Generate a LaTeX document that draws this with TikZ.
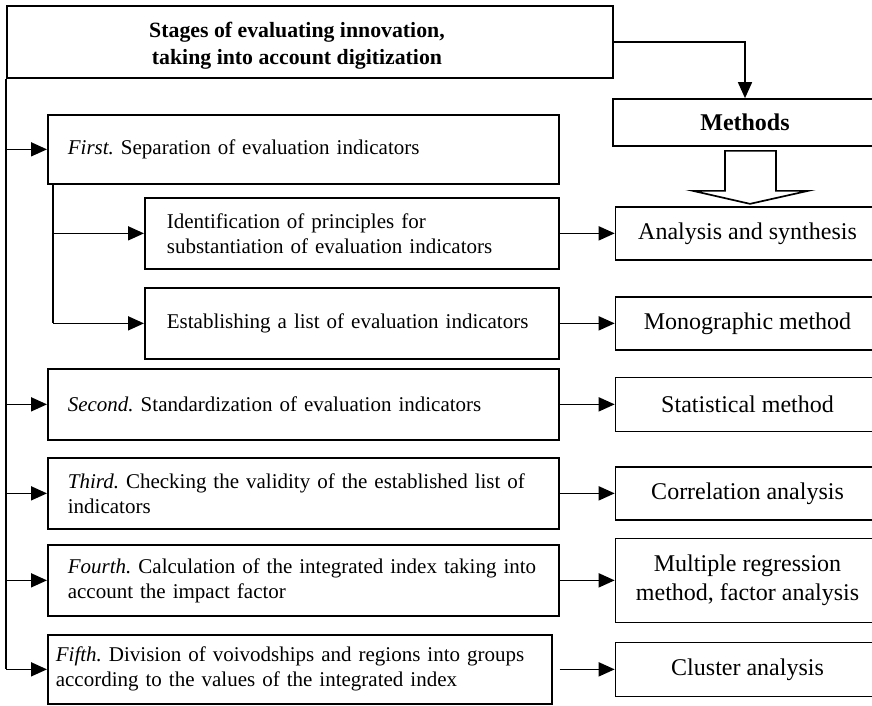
\documentclass[tikz,border=0pt]{standalone}
\usepackage{fontspec}
\setmainfont{Liberation Serif}
\usetikzlibrary{positioning,arrows.meta}

\newcommand{\diagfont}{\fontsize{21}{25}\selectfont}
\newcommand{\methodfont}{\fontsize{24}{29}\selectfont}
\frenchspacing

\tikzset{
  arr/.style={-{Triangle[length=16pt,width=14pt]}, line width=1.7pt},
  stagebox/.style={draw, line width=1.7pt, anchor=north west, align=left,
    inner ysep=0pt, minimum height=71pt, text width=#1},
  methodbox/.style={draw, line width=1.7pt, align=center, inner sep=0pt,
    minimum width=264pt, minimum height=53pt, font=\methodfont},
}

\begin{document}
\begin{tikzpicture}[x=1pt, y=-1pt, nodes={font=\diagfont}]
  \useasboundingbox (0,0) rectangle (872,705);
  \clip (0,0) rectangle (872,705);

  \node[draw, line width=1.7pt, minimum width=606pt, minimum height=72pt, inner sep=0pt] (stages) at (310,42) {};
  \node[align=center, font=\fontsize{21.8}{27}\selectfont\bfseries] (title) at (297,46)
    {Stages of evaluating innovation,\\ taking into account digitization};

  \node[stagebox=471pt, inner xsep=20pt, minimum height=69pt] (first) at (47,114)
    {\textit{First.} Separation of evaluation indicators};
  \node[stagebox=370pt, inner xsep=22pt] (sub1) at (144,197)
    {Identification of principles for\\ substantiation of evaluation indicators};
  \node[stagebox=370pt, inner xsep=22pt] (sub2) at (144,287)
    {Establishing a list of evaluation indicators};
  \node[stagebox=471pt, inner xsep=20pt] (second) at (47,368)
    {\textit{Second.} Standardization of evaluation indicators};
  \node[stagebox=471pt, inner xsep=20pt] (third) at (47,457)
    {\textit{Third.} Checking the validity of the established list of\\ indicators};
  \node[stagebox=471pt, inner xsep=20pt] (fourth) at (47,544)
    {\textit{Fourth.} Calculation of the integrated index taking into\\ account the impact factor};
  \node[stagebox=488pt, inner xsep=8pt, minimum height=69pt] (fifth) at (47,634)
    {\textit{Fifth.} Division of voivodships and regions into groups\\ according to the values of the integrated index};

  \node[methodbox, minimum height=47pt, font=\methodfont\bfseries] (methods) at (745,122.5) {Methods};
  \node[methodbox, right=55pt of sub1] (analysis) {Analysis and synthesis};
  \node[methodbox, right=55pt of sub2] (mono) {Monographic method};
  \node[methodbox, minimum height=54pt, right=55pt of second] (statistical) {Statistical method};
  \node[methodbox, right=55pt of third] (correlation) {Correlation analysis};
  \node[methodbox, minimum height=84pt, right=55pt of fourth] (regression) {Multiple regression\\ method, factor analysis};
  \node[methodbox, minimum height=54pt, right=62pt of fifth] (cluster) {Cluster analysis};

  \draw[arr] (stages.east) -| (methods.north);
  \draw[line width=1.7pt, fill=white] ([shift={(-20,4)}]methods.south) -- ++(51,0) -- ++(0,40)
    -- ++(32,0) -- ++(-58,13) -- ++(-57,-13) -- ++(32,0) -- cycle;

  \draw[line width=1.7pt] (stages.south west) -- (stages.south west |- fifth.west);
  \foreach \s in {first,second,third,fourth,fifth}
    \draw[arr] (stages.south west |- \s.west) -- (\s.west);

  \coordinate (branch) at ([xshift=6pt]first.south west);
  \draw[line width=1.7pt] (branch) -- (branch |- sub2.west);
  \foreach \s in {sub1,sub2}
    \draw[arr] (branch |- \s.west) -- (\s.west);

  \draw[arr] (sub1) -- (analysis);
  \draw[arr] (sub2) -- (mono);
  \draw[arr] (second) -- (statistical);
  \draw[arr] (third) -- (correlation);
  \draw[arr] (fourth) -- (regression);
  \draw[arr] ([xshift=7pt]fifth.east) -- (cluster.west);
\end{tikzpicture}
\end{document}
